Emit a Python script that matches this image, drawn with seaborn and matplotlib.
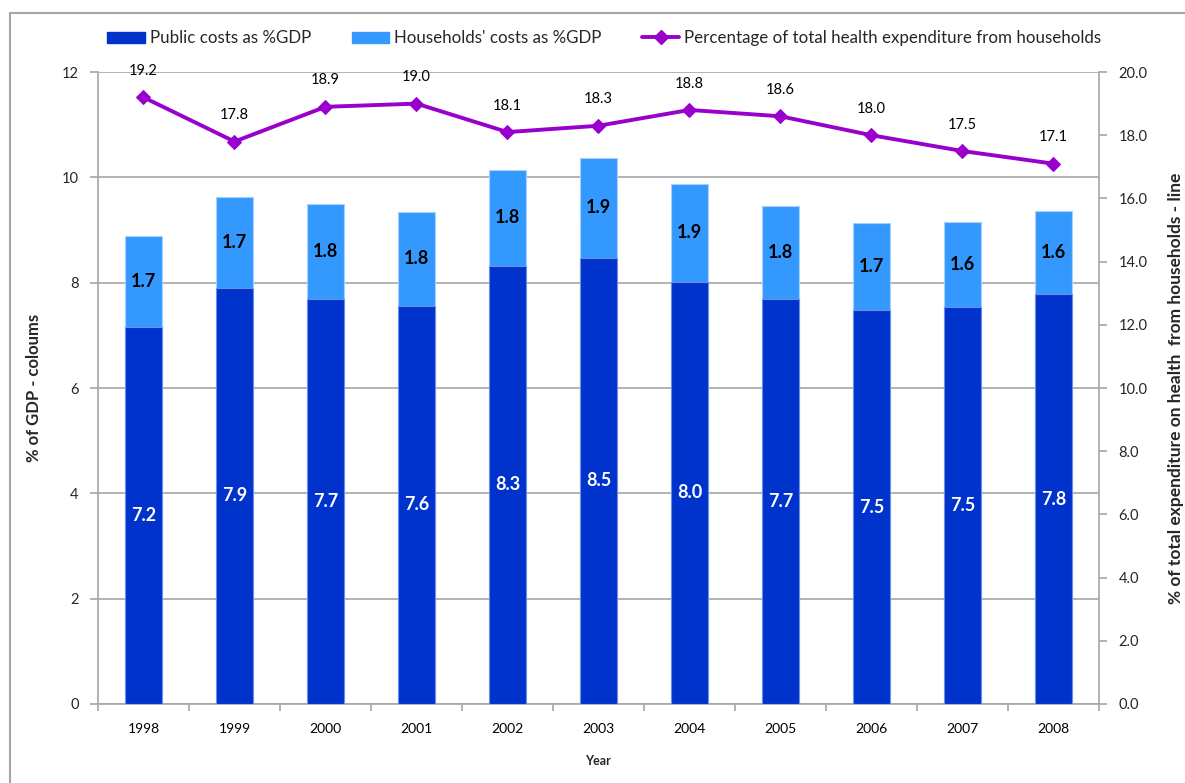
import matplotlib
matplotlib.use("Agg")
import matplotlib.pyplot as plt
from matplotlib.lines import Line2D
import seaborn as sns
import pandas as pd
import numpy as np

years = ["1998", "1999", "2000", "2001", "2002", "2003", "2004", "2005", "2006", "2007", "2008"]
public = [7.16, 7.90, 7.69, 7.56, 8.32, 8.47, 8.02, 7.69, 7.48, 7.54, 7.78]
households = [1.72, 1.73, 1.80, 1.78, 1.82, 1.90, 1.86, 1.76, 1.66, 1.61, 1.59]
hh_share = [19.2, 17.8, 18.9, 19.0, 18.1, 18.3, 18.8, 18.6, 18.0, 17.5, 17.1]

sns.set_theme(style="white")
plt.rcParams['font.family'] = ['Lato', 'DejaVu Sans']

C_PUB = "#0033CC"
C_HH = "#3399FF"
C_LINE = "#9900CC"
GRID = "#a6a6a6"

df = pd.DataFrame({"year": years, "public": public, "households": households, "share": hh_share})
df["total"] = df["public"] + df["households"]

fig = plt.figure(figsize=(11.85, 7.83), dpi=100)
ax = fig.add_axes([0.0827, 0.1009, 0.8447, 0.8071])

sns.barplot(data=df, x="year", y="total", color=C_HH, width=0.4, ax=ax,
            edgecolor="#a8d0ff", linewidth=0.8, saturation=1, zorder=2)
sns.barplot(data=df, x="year", y="public", color=C_PUB, width=0.4, ax=ax,
            edgecolor="#6f8fe6", linewidth=0.8, saturation=1, zorder=3)

ax.set_ylim(0, 12)
ax.set_xlim(-0.5, len(years) - 0.5)
ax.set_yticks([0, 2, 4, 6, 8, 10, 12])
ax.yaxis.grid(True, color=GRID, linewidth=1.2)
ax.set_axisbelow(True)
for s in ["top", "right"]:
    ax.spines[s].set_visible(False)
for s in ["left", "bottom"]:
    ax.spines[s].set_color(GRID)
    ax.spines[s].set_linewidth(1.2)
ax.set_xticks(np.arange(len(years) + 1) - 0.5, minor=True)
ax.tick_params(axis="x", which="major", length=0, labelsize=10, pad=14, colors="black")
ax.tick_params(axis="x", which="minor", length=5, color=GRID, width=1.2, direction="out", bottom=True)
ax.tick_params(axis="y", length=6, color=GRID, width=1.2, direction="out", labelsize=10.5, left=True, pad=8)
ax.set_xlabel("Year", fontsize=9, fontweight="bold", labelpad=14)
ax.set_ylabel("% of GDP - coloums", fontsize=12, fontweight="bold")
ax.yaxis.set_label_coords(-0.056, 0.5)

for i, (p, h) in enumerate(zip(public, households)):
    ax.text(i, p / 2, f"{p:.1f}", ha="center", va="center", color="white",
            fontsize=13, fontweight="bold", zorder=5)
    ax.text(i, p + h / 2, f"{h:.1f}", ha="center", va="center", color="black",
            fontsize=13, fontweight="bold", zorder=5)

ax2 = ax.twinx()
sns.lineplot(data=df, x="year", y="share", color=C_LINE, marker="D", markersize=7,
             markeredgecolor=C_LINE, linewidth=2.8, ax=ax2, sort=False, zorder=6)
ax2.set_ylim(0, 20)
ax2.set_yticks(np.arange(0, 21, 2))
ax2.set_yticklabels([f"{v:.1f}" for v in np.arange(0, 21, 2)])
for s in ["top", "left", "bottom"]:
    ax2.spines[s].set_visible(False)
ax2.spines["right"].set_color(GRID)
ax2.spines["right"].set_linewidth(1.2)
ax2.tick_params(axis="y", length=6, color=GRID, width=1.2, direction="out", labelsize=10.5, right=True, pad=8)
ax2.set_ylabel("% of total expenditure on health  from households - line", fontsize=12.5,
               fontweight="bold")
ax2.yaxis.set_label_coords(1.069, 0.5)
ax2.grid(False)
for i, v in enumerate(hh_share):
    ax2.annotate(f"{v:.1f}", (i, v), xytext=(0, 14), textcoords="offset points",
                 ha="center", va="bottom", fontsize=10.5, color="black")

handles = [plt.Rectangle((0, 0), 1, 1, color=C_PUB),
           plt.Rectangle((0, 0), 1, 1, color=C_HH),
           Line2D([0], [0], color=C_LINE, marker="D", markersize=7, linewidth=2.8)]
labels = ["Public costs as %GDP", "Households' costs as %GDP",
          "Percentage of total health expenditure from households"]
fig.legend(handles, labels, loc="center", bbox_to_anchor=(0.51, 0.951), ncol=3,
           frameon=False, fontsize=12.2, handlelength=2.2, handletextpad=0.3, columnspacing=2.4)

fig.add_artist(Line2D([10 / 1185, 1.0], [1 - 13 / 783, 1 - 13 / 783], color="#a6a6a6", linewidth=1.5,
                      transform=fig.transFigure))
fig.add_artist(Line2D([10 / 1185, 10 / 1185], [0, 1 - 13 / 783], color="#a6a6a6", linewidth=1.5,
                      transform=fig.transFigure))

fig.savefig("out.png", dpi=100)
